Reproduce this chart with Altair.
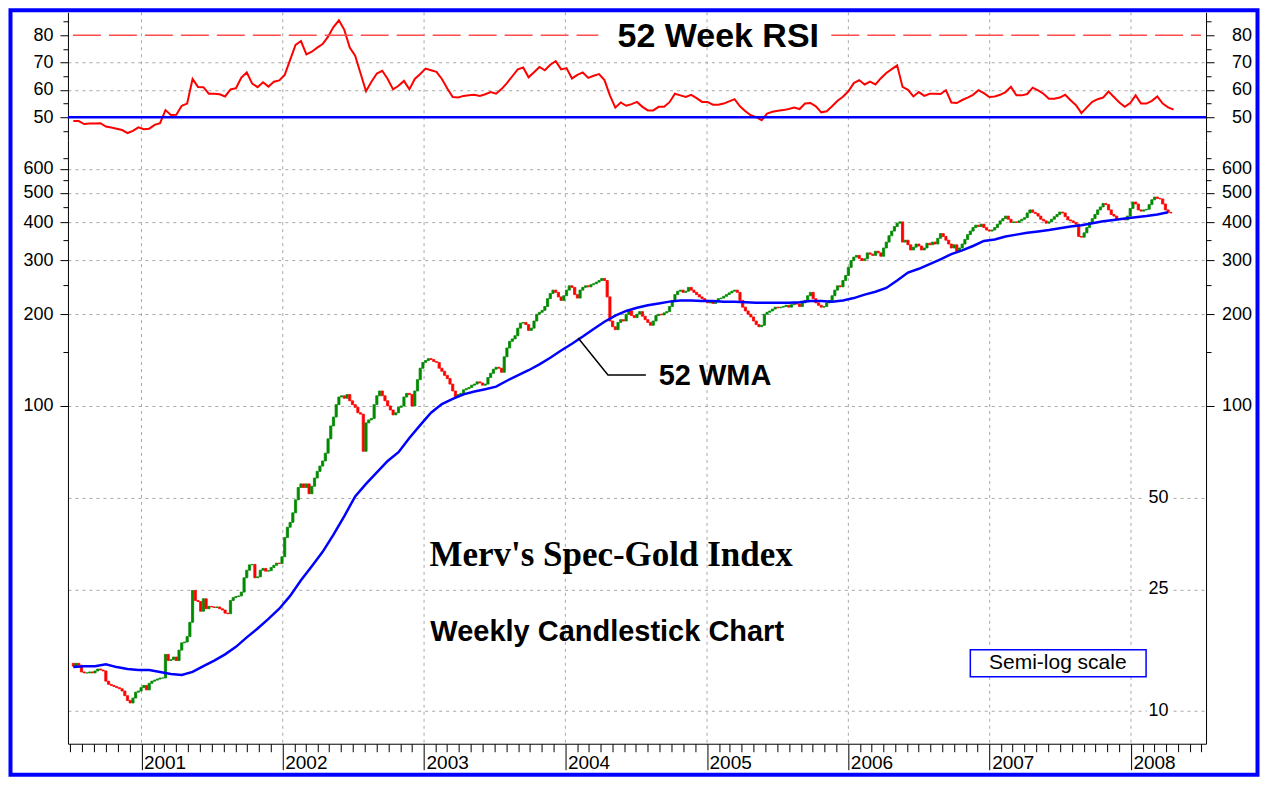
import altair as alt
import pandas as pd

# ---------------- data ----------------
# weekly closes of the index, first week 2000-07-09, one value per week
closes = [
    14.0, 14.3, 14.1, 13.4, 13.3, 13.3, 13.4, 13.3, 13.5, 13.7,
    13.6, 13.5, 12.5, 12.2, 12.1, 12.0, 11.9, 11.8, 11.6, 11.2,
    10.8, 10.6, 11.0, 11.5, 11.6, 11.9, 12.1, 11.7, 12.3, 12.5,
    12.6, 12.7, 12.8, 12.8, 15.3, 14.6, 14.7, 15.0, 14.6, 15.8,
    16.7, 16.8, 17.5, 19.5, 24.8, 23.0, 22.8, 21.2, 23.3, 21.6,
    22.0, 21.9, 21.8, 21.9, 21.6, 21.4, 20.9, 20.8, 23.0, 23.5,
    23.7, 23.8, 24.5, 27.3, 28.9, 30.1, 30.2, 27.3, 27.5, 28.9,
    29.3, 28.7, 28.8, 29.5, 30.0, 30.5, 30.4, 32.0, 37.0, 40.0,
    41.5, 44.6, 49.2, 54.0, 55.5, 54.0, 55.5, 51.5, 54.5, 58.0,
    61.0, 63.5, 66.0, 70.0, 78.0, 86.0, 92.0, 101, 107, 108,
    106, 109, 104, 101, 99, 95, 94, 71, 88, 90,
    91, 101, 108, 112, 108, 104, 100, 97, 93.5, 95,
    99, 100, 107, 110, 109, 100, 112, 122, 133, 139,
    141, 143, 142, 140, 139, 133, 130, 126, 123, 118,
    112, 107, 109, 110, 113, 114, 115, 117, 118, 120,
    119, 117, 118, 124, 128, 132, 134, 133, 129, 145,
    155, 163, 166, 170, 180, 187, 188, 185, 177, 180,
    190, 200, 203, 206, 212, 225, 234, 240, 236, 228,
    222, 230, 240, 248, 245, 232, 226, 240, 245, 248,
    246, 250, 252, 255, 258, 262, 258, 228, 190, 182,
    178, 188, 192, 190, 200, 205, 198, 195, 200, 204,
    197, 192, 188, 184, 190, 198, 200, 199, 202, 204,
    212, 222, 232, 238, 240, 236, 238, 245, 240, 236,
    232, 228, 225, 221, 218, 220, 217, 222, 225, 226,
    229, 232, 235, 238, 240, 236, 222, 211, 205, 200,
    196, 190, 185, 182, 184, 200, 203, 205, 208, 211,
    210, 211, 212, 214, 211, 215, 218, 216, 212, 218,
    222, 230, 236, 225, 218, 214, 211, 212, 218, 222,
    230, 240, 248, 246, 258, 268, 285, 300, 308, 312,
    305, 300, 304, 318, 315, 312, 322, 318, 310, 330,
    345, 362, 375, 388, 398, 402, 345, 350, 338, 325,
    332, 340, 335, 325, 330, 342, 338, 345, 340, 355,
    368, 360, 350, 340, 330, 338, 322, 330, 340, 352,
    365, 375, 385, 392, 388, 395, 385, 378, 375, 378,
    385, 395, 405, 412, 420, 410, 400, 402, 400, 405,
    410, 415, 430, 440, 432, 428, 420, 410, 405, 398,
    402, 410, 418, 425, 433, 430, 418, 408, 405, 400,
    395, 360, 358, 370, 385, 400, 412, 425, 440, 450,
    462, 458, 440, 425, 420, 410, 412, 410, 408, 420,
    445, 467, 460, 440, 436, 440, 442, 458, 475, 485,
    480, 478, 460, 440, 432, 430,
]
first_open = 14.3

# 52 week RSI, one value every two weeks from 2000-07-09
rsi_values = [
    48.6, 48.6, 47.5, 47.7, 47.7, 47.8, 46.6, 46.2, 45.8, 45.3,
    44.2, 45.0, 46.3, 45.6, 45.8, 47.2, 47.8, 52.6, 50.8, 50.9,
    54.2, 55.0, 64.0, 61.1, 61.0, 58.6, 58.6, 58.4, 57.6, 60.2,
    60.6, 64.5, 66.4, 62.3, 61.0, 62.8, 61.2, 63.0, 63.5, 65.5,
    71.0, 76.5, 77.9, 73.0, 74.0, 75.5, 76.8, 79.5, 83.0, 85.5,
    82.0, 75.5, 72.5, 66.0, 59.5, 63.0, 66.0, 67.0, 64.0, 60.2,
    61.5, 63.3, 60.2, 64.0, 65.8, 67.8, 67.2, 66.6, 64.0, 60.5,
    57.4, 57.2, 57.8, 58.0, 58.2, 57.8, 58.4, 59.2, 58.6, 60.3,
    62.5, 65.0, 67.5, 68.2, 64.6, 66.5, 68.4, 67.2, 69.2, 70.5,
    67.5, 68.0, 64.2, 65.5, 66.4, 64.4, 65.2, 65.8, 63.6, 58.0,
    53.5, 55.4, 54.2, 54.8, 55.6, 53.8, 52.5, 52.5, 53.8, 53.8,
    55.5, 58.6, 58.0, 57.4, 58.2, 57.0, 55.6, 55.6, 54.6, 54.6,
    55.0, 55.8, 56.6, 54.0, 52.2, 50.7, 50.0, 48.9, 51.3, 52.0,
    52.4, 52.6, 53.0, 53.5, 53.0, 55.0, 55.2, 54.0, 51.8, 52.2,
    54.0, 56.0, 57.5, 59.5, 62.5, 63.6, 62.0, 63.0, 62.0, 64.3,
    66.2, 67.6, 69.0, 61.1, 60.0, 57.6, 59.2, 57.8, 58.6, 58.6,
    58.5, 59.9, 55.4, 55.2, 56.3, 57.2, 58.2, 59.9, 58.8, 57.4,
    57.6, 58.2, 59.2, 61.1, 58.0, 58.0, 58.5, 60.8, 59.8, 58.6,
    56.8, 56.8, 57.2, 58.2, 56.2, 54.4, 51.5, 53.6, 55.6, 56.6,
    57.2, 59.4, 57.4, 55.4, 53.8, 55.2, 58.0, 55.0, 55.0, 56.0,
    57.6, 55.0, 53.6, 52.8,
]

# 52 week weighted moving average, one value every four weeks from 2000-07-09
wma_values = [
    13.9, 14.0, 14.0, 14.2, 13.9, 13.7, 13.6, 13.6, 13.4, 13.2,
    13.1, 13.4, 14.0, 14.6, 15.3, 16.2, 17.4, 18.6, 20.0, 21.6,
    23.8, 26.8, 29.8, 33.2, 37.8, 43.5, 50.5, 55.5, 60.5, 66.0,
    70.5, 78.5, 86.5, 95.0, 101.5, 105.5, 109.2, 111.5, 113.5, 115.7,
    121, 126, 131, 137, 144, 152, 160, 169, 179, 189,
    198, 205, 210, 214, 217, 220, 222, 222, 221, 221,
    220, 220, 219, 218, 218, 218, 218, 219, 221, 221,
    220, 222, 226, 232, 237, 244, 258, 274, 282, 292,
    303, 315, 324, 335, 348, 352, 360, 365, 370, 374,
    378, 383, 388, 392, 398, 404, 408, 412, 416, 420,
    425, 432,
]

year_lines = ["2001-01-01", "2002-01-01", "2003-01-01", "2004-01-01",
              "2005-01-01", "2006-01-01", "2007-01-01", "2008-01-01"]
rsi_ticks = [45, 50, 55, 60, 65, 70, 75, 80, 85]
price_ticks = [10, 25, 50, 100, 150, 200, 250, 300, 350, 400, 450, 500, 550, 600, 650]
inside_labels = [50, 25, 10]

# ---------------- tables ----------------
week_dates = pd.date_range("2000-07-09", periods=len(closes), freq="7D").strftime("%Y-%m-%d")
opens = [first_open] + closes[:-1]
candles = pd.DataFrame({
    "date": week_dates,
    "open": opens,
    "close": closes,
    "dir": ["up" if c >= o else "down" for o, c in zip(opens, closes)],
})
rsi_df = pd.DataFrame({
    "date": pd.date_range("2000-07-09", periods=len(rsi_values), freq="14D").strftime("%Y-%m-%d"),
    "rsi": rsi_values,
})
wma_df = pd.DataFrame({
    "date": pd.date_range("2000-07-09", periods=len(wma_values), freq="28D").strftime("%Y-%m-%d"),
    "wma": wma_values,
})

# ---------------- scales & axes ----------------
W, H = 1139, 732
FONT = "Liberation Sans"
GRID = "#a8a8a8"
xscale = alt.Scale(domain=[alt.DateTime(year=2000, month=7, date=8),
                           alt.DateTime(year=2008, month=6, date=30)])
rsi_scale = alt.Scale(domain=[41.58, 88.42], range=[128, 0], nice=False, zero=False)
main_scale = alt.Scale(type="log", domain=[7.79, 745.1], range=[H, 128], nice=False)

x_axis = alt.Axis(
    orient="bottom",
    tickCount={"interval": "month", "step": 1},
    labelExpr="month(datum.value) == 0 ? timeFormat(datum.value, '%Y') : ''",
    tickSize={"condition": {"test": "month(datum.value) == 0", "value": 26}, "value": 8},
    grid=False,
    labelAlign="left", labelBaseline="top", labelPadding=-16, labelOffset=2,
    labelOverlap=False, labelFlush=False, labelFontSize=19, title=None,
)


def rsi_axis(orient):
    return alt.Axis(
        orient=orient, values=rsi_ticks, title=None,
        labelExpr="datum.value % 10 == 0 ? format(datum.value, 'd') : ''",
        tickSize={"condition": {"test": "datum.value % 10 == 0", "value": 8}, "value": 5},
        grid=(orient == "left"),
        gridOpacity={"condition": {"test": "datum.value == 60 || datum.value == 70", "value": 1}, "value": 0},
        gridDash=[3, 4], gridColor=GRID,
        labelAlign="right", labelPadding=7 if orient == "left" else 37.5,
        labelOverlap=False,
    )


def main_axis(orient):
    return alt.Axis(
        orient=orient, values=price_ticks, title=None,
        labelExpr="datum.value >= 100 && datum.value % 100 == 0 ? format(datum.value, 'd') : ''",
        tickSize={"condition": {"test": "datum.value % 100 == 0", "value": 8}, "value": 5},
        tickOpacity={"condition": {"test": "datum.value < 100", "value": 0}, "value": 1},
        grid=(orient == "left"),
        gridOpacity={"condition": {"test": "datum.value < 100 || datum.value % 100 == 0", "value": 1}, "value": 0},
        gridDash=[3, 4], gridColor=GRID,
        labelAlign="right", labelPadding=7 if orient == "left" else 37.5,
        labelOverlap=False,
    )


def X(field="date", axis=None):
    return alt.X(f"{field}:T", scale=xscale, axis=axis)


def text_layer(df, scale, size, weight="bold", font=FONT, align="center", **kw):
    return alt.Chart(df).mark_text(
        fontSize=size, fontWeight=weight, font=font, align=align, baseline="middle", **kw
    ).encode(
        x=X(), y=alt.Y("v:Q", scale=scale, axis=None), text="label:N"
    )


# ---------------- layers ----------------
year_grid = alt.Chart(pd.DataFrame({"date": year_lines})).mark_rule(
    color=GRID, strokeWidth=1, strokeDash=[3, 4]
).encode(x=X())

rsi_line = alt.Chart(rsi_df).mark_line(color="#ff0000", strokeWidth=2).encode(
    x=X(), y=alt.Y("rsi:Q", scale=rsi_scale, axis=rsi_axis("left"))
)
rsi50 = alt.Chart(pd.DataFrame({"v": [50]})).mark_rule(color="#0000ff", strokeWidth=2.5).encode(
    y=alt.Y("v:Q", scale=rsi_scale, axis=rsi_axis("right"))
)
rsi80_df = pd.DataFrame({"start": ["2000-07-08", "2005-11-18"],
                         "end": ["2004-03-26", "2008-06-30"], "v": [80, 80]})
rsi80 = alt.Chart(rsi80_df).mark_rule(color="#ff4c4c", strokeWidth=1.5, strokeDash=[28, 8]).encode(
    x=X("start"), x2="end:T", y=alt.Y("v:Q", scale=rsi_scale, axis=None)
)
rsi_title = text_layer(pd.DataFrame({"date": ["2005-01-30"], "v": [79.3], "label": ["52 Week RSI"]}),
                       rsi_scale, 34)

dir_scale = alt.Scale(domain=["up", "down"], range=["#008a00", "#ff0000"])
bars = alt.Chart(candles).mark_bar(size=2.2, strokeWidth=0.8).encode(
    x=X(axis=x_axis),
    y=alt.Y("open:Q", scale=main_scale, axis=main_axis("left")),
    y2="close:Q",
    color=alt.Color("dir:N", scale=dir_scale, legend=None),
    stroke=alt.Stroke("dir:N", scale=dir_scale, legend=None),
)
wma_line = alt.Chart(wma_df).mark_line(color="#0000ff", strokeWidth=2.5).encode(
    x=X(), y=alt.Y("wma:Q", scale=main_scale, axis=main_axis("right"))
)

leader_df = pd.DataFrame({"date": ["2004-02-03", "2004-04-20", "2004-07-27"], "v": [167.1, 126.4, 126.4]})
leader = alt.Chart(leader_df).mark_line(color="black", strokeWidth=1.5).encode(
    x=X(), y=alt.Y("v:Q", scale=main_scale, axis=None)
)
wma_label = text_layer(pd.DataFrame({"date": ["2004-08-29"], "v": [125.4], "label": ["52 WMA"]}),
                       main_scale, 29, align="left")
title1 = text_layer(pd.DataFrame({"date": ["2004-04-28"], "v": [32.5], "label": ["Merv's Spec-Gold Index"]}),
                    main_scale, 35, font="Liberation Serif")
title2 = text_layer(pd.DataFrame({"date": ["2004-04-18"], "v": [18.16], "label": ["Weekly Candlestick Chart"]}),
                    main_scale, 29)

box_df = pd.DataFrame({"start": ["2006-11-12"], "end": ["2008-02-09"], "lo": [12.93], "hi": [15.85]})
box = alt.Chart(box_df).mark_rect(fill="white", stroke="#0000ff", strokeWidth=1.5).encode(
    x=X("start"), x2="end:T", y=alt.Y("lo:Q", scale=main_scale, axis=None), y2="hi:Q"
)
box_text = text_layer(pd.DataFrame({"date": ["2007-06-26"], "v": [14.37], "label": ["Semi-log scale"]}),
                      main_scale, 21, weight="normal")

inside_df = pd.DataFrame({"date": ["2008-03-12"] * len(inside_labels), "v": inside_labels,
                          "label": [str(v) for v in inside_labels]})
inside_halo = text_layer(inside_df, main_scale, 18, weight="normal", color="white",
                         stroke="white", strokeWidth=9, strokeJoin="round")
inside_text = text_layer(inside_df, main_scale, 18, weight="normal", color="black")

frame = alt.Chart(pd.DataFrame({"k": [0]})).mark_rect(
    fill="white", fillOpacity=0, stroke="#0000ff", strokeWidth=4
).encode(
    x=alt.value(-57.5), x2=alt.value(W + 51.5), y=alt.value(-2), y2=alt.value(763)
)

chart = alt.layer(
    year_grid,
    rsi_line, rsi50, rsi80, rsi_title,
    bars, wma_line, leader, wma_label, title1, title2,
    box, box_text, inside_halo, inside_text, frame,
).resolve_scale(
    y="independent"
).resolve_axis(
    x="independent"
).properties(
    width=W, height=H, padding=0, autosize=alt.AutoSizeParams(type="pad"),
    background="white",
).configure_view(
    stroke=None
).configure_axis(
    labelFont=FONT, labelFontSize=18, labelColor="black",
    domainColor="black", tickColor="black", domainWidth=1, tickWidth=1,
)

chart.save("out.html", embed_options={"renderer": "svg", "actions": False})
